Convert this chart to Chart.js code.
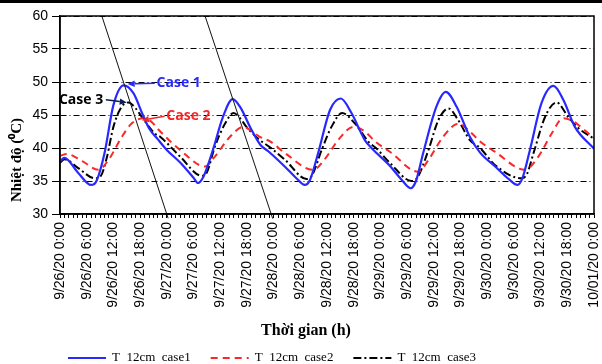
<!DOCTYPE html>
<html>
<head>
<meta charset="utf-8">
<script src="https://cdn.jsdelivr.net/npm/chart.js@4.4.0/dist/chart.umd.min.js"></script>
<style>
  html, body { margin: 0; padding: 0; background: #fff; }
  #wrap { width: 602px; height: 364px; position: relative; }
</style>
</head>
<body>
<div id="wrap"><canvas id="tempChart"></canvas></div>
<script>
// x axis runs in hours from 9/26/20 0:00, labelled every 6 h
const timeLabels = [
  '9/26/20 0:00', '9/26/20 6:00', '9/26/20 12:00', '9/26/20 18:00',
  '9/27/20 0:00', '9/27/20 6:00', '9/27/20 12:00', '9/27/20 18:00',
  '9/28/20 0:00', '9/28/20 6:00', '9/28/20 12:00', '9/28/20 18:00',
  '9/29/20 0:00', '9/29/20 6:00', '9/29/20 12:00', '9/29/20 18:00',
  '9/30/20 0:00', '9/30/20 6:00', '9/30/20 12:00', '9/30/20 18:00',
  '10/01/20 0:00'
];
const seriesNames = ['T  12cm  case1', 'T  12cm  case2', 'T  12cm  case3'];

// case 1
const case1Hours = [0, 1, 4, 7, 8.2, 10, 12, 14.3, 16.5, 18.5, 20, 22, 24, 27, 30, 31, 32.2, 34.5, 36.5, 38.8,
  40.5, 43, 45, 47, 50.5, 53, 55, 56.2, 58, 60.7, 63.1, 65.5, 68.5, 70, 74, 77, 78.8, 80, 81.6, 84.6,
  86.7, 89.1, 92.1, 94.4, 97.8, 101, 102.8, 104, 105.6, 108.2, 110.9, 113.1, 115.7, 120];
const case1Temps = [38.0, 38.5, 36.3, 34.4, 35.0, 39.2, 46.5, 49.5, 48.3, 45.2, 43.0, 41.3, 39.7, 37.8, 35.5, 34.7, 35.6, 40.0, 44.5, 47.4,
  46.2, 42.8, 40.5, 39.4, 37.2, 35.5, 34.4, 35.2, 39.2, 45.8, 47.5, 45.3, 41.2, 40.0, 37.4, 35.0, 33.9, 35.0, 39.2, 46.3,
  48.5, 46.3, 41.7, 39.3, 37.2, 35.2, 34.4, 35.6, 39.7, 46.8, 49.4, 47.3, 43.2, 39.9];

// case 2
const case2Hours = [0, 1.5, 5, 8.6, 10.9, 13.9, 16.1, 18.7, 20.5, 22.1, 27, 32.6, 34.8, 38.2, 41.2, 43, 44.9, 47.2, 50.6, 56.9,
  59.6, 62.5, 65.9, 68.5, 70.8, 74.2, 80.5, 82.8, 86.1, 89.5, 92.1, 94.4, 97.8, 104.5, 107.5, 110.5, 113, 115.5, 117, 120];
const case2Temps = [38.8, 39.1, 38.0, 36.7, 38.2, 41.7, 43.7, 44.5, 44.0, 42.8, 39.7, 37.2, 38.7, 41.7, 43.2, 42.6, 41.7, 41.0, 39.2, 36.7,
  38.4, 41.2, 43.2, 42.5, 41.0, 39.4, 36.4, 38.2, 41.7, 43.7, 42.5, 41.0, 39.4, 36.7, 38.7, 42.2, 44.5, 44.0, 43.2, 41.5];

// case 3
const case3Hours = [0, 1, 4, 7.9, 9.2, 10.5, 12, 13.8, 15.4, 17, 18.4, 21.3, 22.5, 27, 31.8, 33, 34.8, 37.1, 39, 40.5,
  41.9, 44.9, 47.2, 50.6, 55.4, 56.6, 58.8, 61, 63.4, 66.3, 69.5, 71, 74.2, 79, 80.3, 82.8, 85, 87.3, 89.5, 92.1,
  94.4, 97.8, 103.7, 104.9, 106.4, 109, 111.6, 114.2, 116.5, 120];
const case3Temps = [37.8, 38.3, 37.0, 35.4, 35.8, 38.5, 43.2, 46.2, 46.9, 46.0, 44.7, 42.2, 41.7, 38.7, 35.8, 36.3, 40.2, 43.7, 45.3, 44.5,
  43.2, 41.2, 40.1, 38.2, 35.3, 35.8, 39.7, 43.2, 45.3, 43.7, 40.8, 40.0, 37.7, 35.0, 35.5, 39.7, 44.2, 46.0, 44.2, 41.2,
  40.0, 37.4, 35.4, 36.0, 39.2, 44.7, 46.9, 44.7, 43.0, 41.4];

const toPoints = (hours, temps) => hours.map((h, i) => ({ x: h, y: temps[i] }));

// two thin slanted guide lines, ends given as [hour, temperature]
const guideLines = [
  [[9.4, 60], [24.3, 29.35]],
  [[32.6, 60], [47.8, 29.3]]
];

// callouts: label, colour, where the text sits and where the arrow points
const callouts = [
  { text: 'Case 1', color: 'rgb(40,40,255)', arrow: 'rgb(40,40,255)', align: 'left',  at: [21.7, 49.8], from: [21.3, 49.8], to: [15.2, 49.7] },
  { text: 'Case 3', color: '#000',           arrow: '#0b1e5b',        align: 'right', at: [9.7, 47.3],  from: [10.3, 47.3], to: [15.0, 46.9] },
  { text: 'Case 2', color: 'rgb(240,40,40)', arrow: 'rgb(240,40,40)', align: 'left',  at: [23.9, 44.8], from: [23.5, 44.8], to: [18.4, 44.2] }
];

function arrow(ctx, x1, y1, x2, y2, color) {
  const ang = Math.atan2(y2 - y1, x2 - x1);
  const len = 7, half = 3.2;
  ctx.save();
  ctx.strokeStyle = color;
  ctx.fillStyle = color;
  ctx.lineWidth = 1.5;
  ctx.beginPath();
  ctx.moveTo(x1, y1);
  ctx.lineTo(x2 - Math.cos(ang) * len, y2 - Math.sin(ang) * len);
  ctx.stroke();
  ctx.beginPath();
  ctx.moveTo(x2, y2);
  ctx.lineTo(x2 - Math.cos(ang) * len - Math.sin(ang) * half, y2 - Math.sin(ang) * len + Math.cos(ang) * half);
  ctx.lineTo(x2 - Math.cos(ang) * len + Math.sin(ang) * half, y2 - Math.sin(ang) * len - Math.cos(ang) * half);
  ctx.closePath();
  ctx.fill();
  ctx.restore();
}

const decorations = {
  id: 'decorations',
  beforeDraw(chart) {
    const ctx = chart.ctx;
    ctx.save();
    ctx.fillStyle = '#fff';
    ctx.fillRect(0, 0, chart.width, chart.height);
    ctx.fillStyle = '#000';
    ctx.fillRect(0, 0, chart.width, 3);
    ctx.restore();
  },
  afterDatasetsDraw(chart) {
    const ctx = chart.ctx;
    const xs = chart.scales.x, ys = chart.scales.y;

    ctx.save();
    ctx.strokeStyle = '#111';
    ctx.lineWidth = 1;
    guideLines.forEach(([a, b]) => {
      ctx.beginPath();
      ctx.moveTo(xs.getPixelForValue(a[0]), ys.getPixelForValue(a[1]));
      ctx.lineTo(xs.getPixelForValue(b[0]), ys.getPixelForValue(b[1]));
      ctx.stroke();
    });
    ctx.restore();

    callouts.forEach(c => {
      arrow(ctx, xs.getPixelForValue(c.from[0]), ys.getPixelForValue(c.from[1]),
        xs.getPixelForValue(c.to[0]), ys.getPixelForValue(c.to[1]), c.arrow);
      ctx.save();
      ctx.font = 'bold 14px "Open Sans"';
      ctx.fillStyle = c.color;
      ctx.textAlign = c.align;
      ctx.textBaseline = 'middle';
      ctx.fillText(c.text, xs.getPixelForValue(c.at[0]), ys.getPixelForValue(c.at[1]));
      ctx.restore();
    });
  },
  afterDraw(chart) {
    const ctx = chart.ctx;
    const area = chart.chartArea;

    // plot frame
    ctx.save();
    ctx.strokeStyle = '#000';
    ctx.lineWidth = 1.5;
    ctx.strokeRect(area.left, area.top, area.right - area.left, area.bottom - area.top);
    ctx.restore();

    // axis titles
    ctx.save();
    ctx.fillStyle = '#000';
    ctx.font = 'bold 16px "Liberation Serif"';
    ctx.textAlign = 'center';
    ctx.textBaseline = 'alphabetic';
    ctx.fillText('Thời gian (h)', 306, 335);
    ctx.translate(21, 160);
    ctx.rotate(-Math.PI / 2);
    ctx.font = 'bold 15px "Liberation Serif"';
    ctx.fillText('Nhiệt độ (⁰C)', 0, 0);
    ctx.restore();

    // legend along the bottom
    ctx.save();
    ctx.font = '13px "Liberation Serif"';
    ctx.textBaseline = 'middle';
    let x = 68;
    const y = 358;
    chart.data.datasets.forEach(ds => {
      ctx.strokeStyle = ds.borderColor;
      ctx.lineWidth = 2;
      ctx.setLineDash(ds.borderDash || []);
      ctx.beginPath();
      ctx.moveTo(x, y);
      ctx.lineTo(x + 38, y);
      ctx.stroke();
      ctx.setLineDash([]);
      ctx.fillStyle = '#000';
      ctx.fillText(ds.label, x + 44, y);
      x += 44 + ctx.measureText(ds.label).width + 20;
    });
    ctx.restore();
  }
};

new Chart(document.getElementById('tempChart'), {
  type: 'line',
  data: {
    datasets: [
      {
        label: seriesNames[0],
        data: toPoints(case1Hours, case1Temps),
        borderColor: 'rgb(40,40,255)',
        borderWidth: 2.2
      },
      {
        label: seriesNames[1],
        data: toPoints(case2Hours, case2Temps),
        borderColor: 'rgb(250,40,40)',
        borderWidth: 2,
        borderDash: [7, 5]
      },
      {
        label: seriesNames[2],
        data: toPoints(case3Hours, case3Temps),
        borderColor: '#000',
        borderWidth: 2,
        borderDash: [8, 3, 2, 3]
      }
    ]
  },
  options: {
    responsive: true,
    maintainAspectRatio: false,
    animation: false,
    layout: { padding: { top: 16, right: 8, bottom: 0, left: 0 } },
    elements: {
      point: { radius: 0 },
      line: { cubicInterpolationMode: 'monotone', fill: false }
    },
    plugins: {
      legend: { display: false },
      tooltip: { enabled: false }
    },
    scales: {
      x: {
        type: 'linear',
        min: 0,
        max: 120,
        afterFit: s => {
          s.height = 150;
          // rotated end labels only need half a line of room
          s.paddingLeft = 0;
          s.paddingRight = 0;
        },
        border: { display: true, color: '#000', width: 1.5 },
        grid: { drawOnChartArea: false, drawTicks: true, tickLength: 4, color: '#000', lineWidth: 1 },
        ticks: {
          stepSize: 1,
          maxTicksLimit: 500,
          autoSkip: false,
          minRotation: 90,
          maxRotation: 90,
          padding: 4,
          color: '#000',
          font: { family: '"Liberation Sans"', size: 14 },
          callback: (v) => (v % 6 === 0 ? timeLabels[v / 6] : '')
        }
      },
      y: {
        min: 30,
        max: 60,
        afterFit: s => { s.width = 60; },
        border: { display: true, color: '#000', width: 1.5, dash: [6, 3, 1, 3] },
        grid: { color: '#000', lineWidth: 1, tickLength: 8, tickBorderDash: [] },
        ticks: {
          stepSize: 5,
          padding: 4,
          color: '#000',
          font: { family: '"Liberation Sans"', size: 14 }
        }
      }
    }
  },
  plugins: [decorations]
});
</script>
</body>
</html>
